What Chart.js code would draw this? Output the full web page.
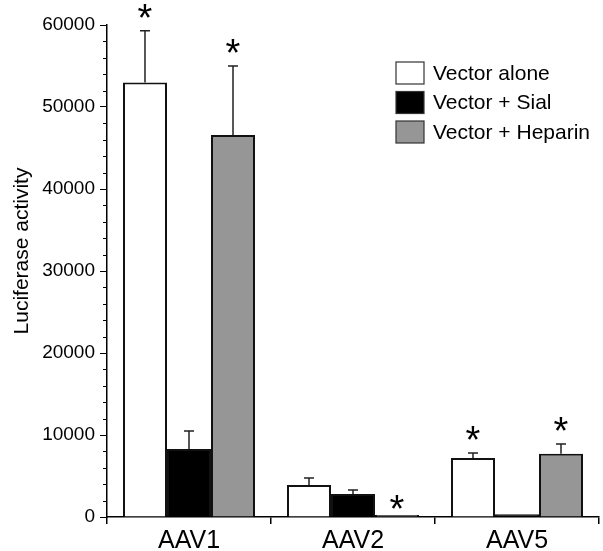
<!DOCTYPE html>
<html lang="en">
<head>
    <meta charset="UTF-8">
    <title>Luciferase activity</title>
    <style>
        * { margin: 0; padding: 0; box-sizing: border-box; }
        body { background: #fff; }
        #chart { display: block; }
    </style>
</head>
<body>
    <canvas id="chart" width="603" height="551"></canvas>

    <script src="https://cdn.jsdelivr.net/npm/chart.js"></script>
    <script>
        const categories = ['AAV1', 'AAV2', 'AAV5'];
        const seriesNames = ['Vector alone', 'Vector + Sial', 'Vector + Heparin'];
        const yTitle = 'Luciferase activity';

        const aloneValues = [53000, 3900, 7200];
        const aloneErrors = [6300, 850, 600];
        const sialValues = [8300, 2800, 350];
        const sialErrors = [2200, 500, 0];
        const heparinValues = [46600, 250, 7700];
        const heparinErrors = [8400, 0, 1200];

        // which bars carry a significance star
        const aloneStars = [true, false, true];
        const sialStars = [false, false, false];
        const heparinStars = [true, true, true];

        const yTicks = [0, 10000, 20000, 30000, 40000, 50000, 60000];

        const FONT = "'Liberation Sans', Arial, sans-serif";

        const errors = [aloneErrors, sialErrors, heparinErrors];
        const stars = [aloneStars, sialStars, heparinStars];

        // error bars (upper only) and stars
        const errorBarPlugin = {
            id: 'errorBars',
            afterDatasetsDraw(chart) {
                const ctx = chart.ctx;
                const y = chart.scales.y;
                ctx.save();
                chart.data.datasets.forEach((ds, di) => {
                    const meta = chart.getDatasetMeta(di);
                    meta.data.forEach((bar, i) => {
                        const err = errors[di][i];
                        const top = ds.data[i] + err;
                        const yTop = y.getPixelForValue(top);
                        if (err > 0) {
                            ctx.strokeStyle = '#222';
                            ctx.lineWidth = 1.5;
                            ctx.beginPath();
                            ctx.moveTo(bar.x, bar.y);
                            ctx.lineTo(bar.x, yTop);
                            ctx.moveTo(bar.x - 5, yTop);
                            ctx.lineTo(bar.x + 5, yTop);
                            ctx.stroke();
                        }
                        if (stars[di][i]) {
                            ctx.fillStyle = '#000';
                            ctx.font = '38px ' + FONT;
                            ctx.textAlign = 'center';
                            ctx.textBaseline = 'alphabetic';
                            const centre = yTop - (err > 0 ? 22 : 15);
                            ctx.fillText('*', bar.x, centre + 22);
                        }
                    });
                });
                ctx.restore();
            }
        };

        // minor ticks, y title and the legend box
        const extrasPlugin = {
            id: 'extras',
            afterDraw(chart) {
                const ctx = chart.ctx;
                const y = chart.scales.y;
                const x0 = chart.chartArea.left;
                ctx.save();
                ctx.strokeStyle = '#000';
                ctx.lineWidth = 1;
                for (let v = 0; v <= 60000; v += 2000) {
                    if (v % 10000 === 0) continue;
                    const py = Math.round(y.getPixelForValue(v)) + 0.5;
                    ctx.beginPath();
                    ctx.moveTo(x0 - 4, py);
                    ctx.lineTo(x0, py);
                    ctx.stroke();
                }

                // y title, a bit above the axis middle like the original
                ctx.save();
                ctx.translate(22, 251);
                ctx.rotate(-Math.PI / 2);
                ctx.font = '21px ' + FONT;
                ctx.fillStyle = '#000';
                ctx.textAlign = 'center';
                ctx.textBaseline = 'middle';
                ctx.fillText(yTitle, 0, 0);
                ctx.restore();

                // legend
                const lx = 396, ly = 62, row = 29.5;
                ctx.font = '21px ' + FONT;
                ctx.textBaseline = 'middle';
                ctx.textAlign = 'left';
                chart.data.datasets.forEach((ds, i) => {
                    const top = ly + i * row;
                    ctx.fillStyle = ds.backgroundColor;
                    ctx.fillRect(lx, top, 28, 22);
                    ctx.strokeStyle = '#333';
                    ctx.lineWidth = 1.2;
                    ctx.strokeRect(lx, top, 28, 22);
                    ctx.fillStyle = '#000';
                    ctx.fillText(ds.label, lx + 37, top + 12);
                });
                ctx.restore();
            }
        };

        const barStyle = {
            borderColor: '#111',
            borderWidth: 2,
            barPercentage: 1,
            categoryPercentage: 0.805
        };

        new Chart(document.getElementById('chart'), {
            type: 'bar',
            data: {
                labels: categories,
                datasets: [
                    { label: seriesNames[0], data: aloneValues, backgroundColor: '#ffffff', ...barStyle },
                    { label: seriesNames[1], data: sialValues, backgroundColor: '#000000', ...barStyle },
                    { label: seriesNames[2], data: heparinValues, backgroundColor: '#969696', ...barStyle }
                ]
            },
            options: {
                responsive: false,
                animation: false,
                layout: { padding: { top: 25, right: 4, left: 0, bottom: 0 } },
                plugins: {
                    legend: { display: false },
                    tooltip: { enabled: false }
                },
                scales: {
                    x: {
                        offset: true,
                        grid: { offset: true, drawOnChartArea: false, drawTicks: true, tickLength: 7, color: '#000', lineWidth: 1.5 },
                        border: { color: '#000', width: 1.5 },
                        ticks: { color: '#000', font: { family: FONT, size: 25 }, padding: 2 },
                        afterFit(scale) { scale.height = 34; }
                    },
                    y: {
                        min: 0,
                        max: 60000,
                        afterBuildTicks(scale) { scale.ticks = yTicks.map(v => ({ value: v })); },
                        grid: { drawOnChartArea: false, drawTicks: true, tickLength: 7, color: '#000', lineWidth: 1 },
                        border: { color: '#000', width: 1.5 },
                        ticks: { color: '#000', font: { family: FONT, size: 19 }, padding: 5, callback: v => String(v) },
                        afterFit(scale) { scale.width = 107; }
                    }
                }
            },
            plugins: [errorBarPlugin, extrasPlugin]
        });
    </script>
</body>
</html>
